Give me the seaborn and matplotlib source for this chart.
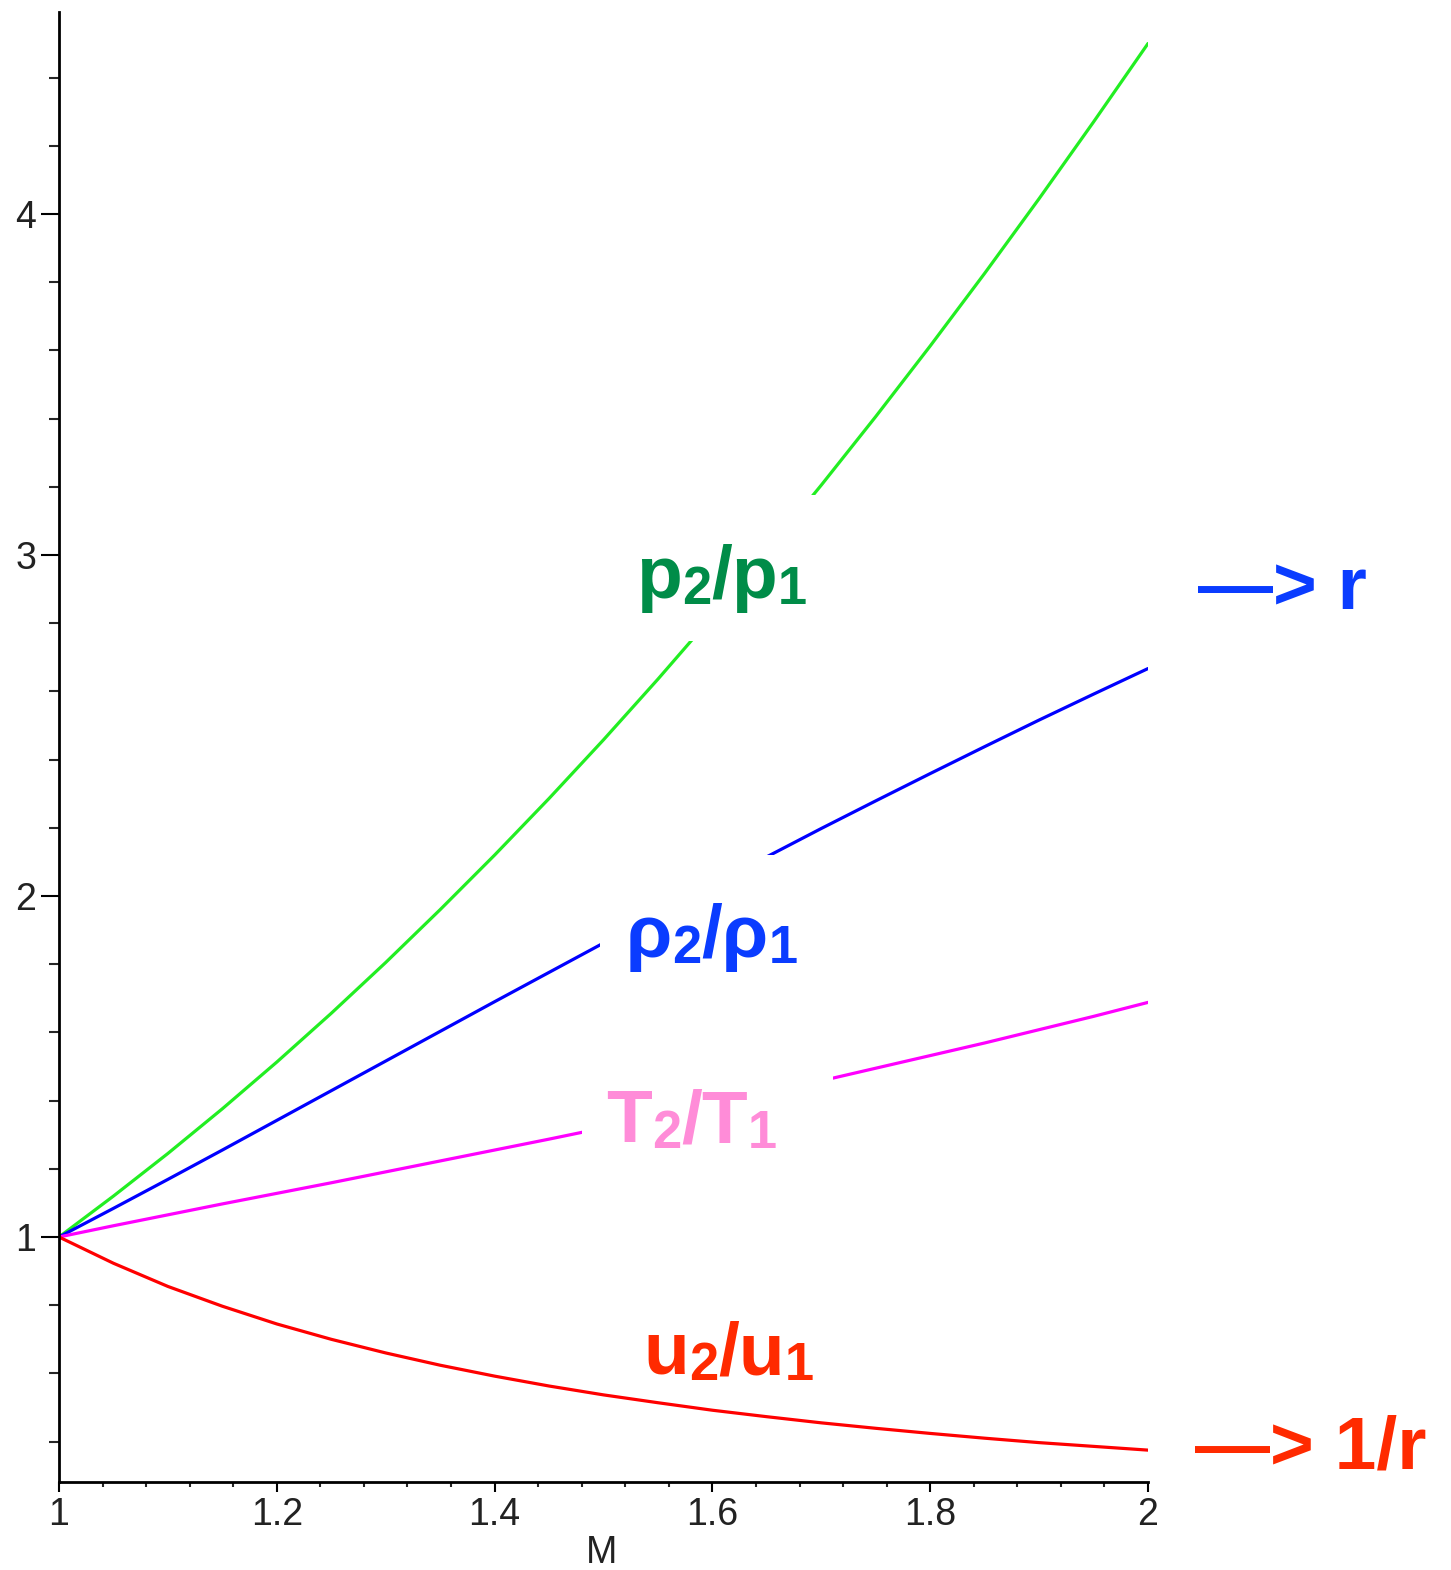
import numpy as np
import pandas as pd
import matplotlib
matplotlib.use("Agg")
import matplotlib.pyplot as plt
import seaborn as sns
from matplotlib.patches import Rectangle
from matplotlib.ticker import MultipleLocator

# ---- data ----
mach = [1.00, 1.05, 1.10, 1.15, 1.20, 1.25, 1.30, 1.35, 1.40, 1.45, 1.50,
        1.55, 1.60, 1.65, 1.70, 1.75, 1.80, 1.85, 1.90, 1.95, 2.00]
pressure_ratio = [1.000, 1.120, 1.245, 1.376, 1.513, 1.656, 1.805, 1.960, 2.120, 2.286, 2.458,
                  2.636, 2.820, 3.010, 3.205, 3.406, 3.613, 3.826, 4.045, 4.270, 4.500]
density_ratio = [1.000, 1.084, 1.169, 1.255, 1.342, 1.429, 1.516, 1.603, 1.690, 1.776, 1.862,
                 1.947, 2.032, 2.115, 2.198, 2.279, 2.359, 2.438, 2.516, 2.592, 2.667]
temperature_ratio = [1.000, 1.033, 1.065, 1.097, 1.128, 1.159, 1.191, 1.223, 1.255, 1.287, 1.320,
                     1.354, 1.388, 1.423, 1.458, 1.495, 1.532, 1.569, 1.608, 1.647, 1.688]
velocity_ratio = [1.000, 0.923, 0.855, 0.797, 0.745, 0.700, 0.660, 0.624, 0.592, 0.563, 0.537,
                  0.514, 0.492, 0.473, 0.455, 0.439, 0.424, 0.410, 0.397, 0.386, 0.375]

series_names = ["p2/p1", "rho2/rho1", "T2/T1", "u2/u1"]
series_values = [pressure_ratio, density_ratio, temperature_ratio, velocity_ratio]
line_colors = ["#22ee22", "#0000ff", "#ff00ff", "#ff0000"]

x_ticks = [1.0, 1.2, 1.4, 1.6, 1.8, 2.0]
x_tick_labels = ["1", "1.2", "1.4", "1.6", "1.8", "2"]
y_ticks = [1, 2, 3, 4]
y_tick_labels = ["1", "2", "3", "4"]

df = pd.concat(
    [pd.DataFrame({"M": mach, "value": v, "ratio": n}) for n, v in zip(series_names, series_values)],
    ignore_index=True,
)

sns.set_style("ticks")
FAM = ["Liberation Sans", "DejaVu Sans"]
plt.rcParams["font.family"] = FAM

W, H = 1451, 1570
fig = plt.figure(figsize=(W / 100, H / 100), dpi=100)
fig.patch.set_facecolor("white")

# pixel geometry of the plotting area
x_left, x_right = 59, 1148
y_top, y_bottom = 12, 1482
px_per_x = 1089.0
px_per_y = 341.0
y_one = 1237

ax = fig.add_axes([x_left / W, 1 - y_bottom / H, (x_right - x_left) / W, (y_bottom - y_top) / H])
ax.set_facecolor("white")

sns.lineplot(data=df, x="M", y="value", hue="ratio", hue_order=series_names,
             palette=line_colors, legend=False, ax=ax, linewidth=2.3, zorder=2)

ax.set_xlim(1, 1 + (x_right - x_left) / px_per_x)
ax.set_ylim(1 - (y_bottom - y_one) / px_per_y, 1 + (y_one - y_top) / px_per_y)

for s in ["top", "right"]:
    ax.spines[s].set_visible(False)
for s in ["left", "bottom"]:
    ax.spines[s].set_linewidth(2.0)
    ax.spines[s].set_color("black")

ax.set_xticks(x_ticks)
ax.set_xticklabels(x_tick_labels)
ax.set_yticks(y_ticks)
ax.set_yticklabels(y_tick_labels)
ax.xaxis.set_minor_locator(MultipleLocator(0.04))
ax.yaxis.set_minor_locator(MultipleLocator(0.2))

ax.tick_params(axis="x", which="major", length=7.5, width=1.5, direction="out",
               labelsize=27, pad=3.5, colors="black")
ax.tick_params(axis="x", which="minor", length=3.8, width=1.5, direction="out")
ax.tick_params(axis="y", which="major", length=13, width=1.5, direction="out",
               labelsize=27, pad=3.5, colors="black")
ax.tick_params(axis="y", which="minor", length=7, width=1.5, direction="out")
for lab in ax.get_xticklabels() + ax.get_yticklabels():
    lab.set_color("#222222")

ax.set_xlabel("M", fontsize=27, color="#222222")
ax.xaxis.set_label_coords(0.4986, -0.036)
ax.set_ylabel("")


def white_box(x0, y0, x1, y1):
    r = Rectangle((x0 / W, 1 - y1 / H), (x1 - x0) / W, (y1 - y0) / H,
                  transform=fig.transFigure, facecolor="white", edgecolor="none",
                  zorder=3, clip_on=False)
    ax.add_patch(r)


def label(parts, x_px, y_px, color, size=54):
    prev = None
    yb = 1 - y_px / H
    for text, sub in parts:
        fs = size * 0.7 if sub else size
        dy = -4.0 if sub else 0.0
        if prev is None:
            t = ax.text(x_px / W, yb, text, transform=fig.transFigure, fontsize=fs,
                        fontweight="bold", color=color, family=FAM, ha="left",
                        va="baseline", zorder=5, clip_on=False)
        else:
            t = ax.annotate(text, xy=(1, yb), xycoords=(prev, "figure fraction"),
                            xytext=(0, dy), textcoords="offset points", fontsize=fs,
                            fontweight="bold", color=color, family=FAM, ha="left",
                            va="baseline", zorder=5, annotation_clip=False)
        prev = t


white_box(598, 495, 832, 641)
white_box(600, 855, 812, 976)
white_box(582, 1071, 833, 1150)

label([("p", False), ("2", True), ("/p", False), ("1", True)], 636, 598, "#008c48")
label([("ρ", False), ("2", True), ("/ρ", False), ("1", True)], 626, 957, "#0a3cff")
label([("T", False), ("2", True), ("/T", False), ("1", True)], 606, 1142, "#ff8cd8")
label([("u", False), ("2", True), ("/u", False), ("1", True)], 643, 1374, "#ff2a00")

label([("—> r", False)], 1198, 609, "#0a3cff")
label([("—> 1/r", False)], 1195, 1468, "#ff2a00")

fig.savefig("out.png", dpi=100, facecolor="white")
